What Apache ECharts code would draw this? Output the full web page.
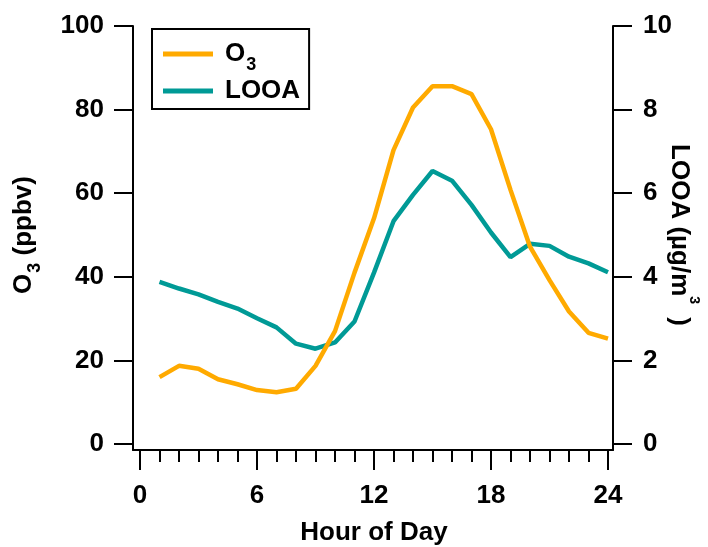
<!DOCTYPE html>
<html>
<head>
<meta charset="utf-8">
<script src="https://cdn.jsdelivr.net/npm/echarts@6/dist/echarts.min.js"></script>
<style>
  html, body { margin: 0; padding: 0; background: #fff; }
  #chart { width: 708px; height: 547px; }
</style>
</head>
<body>
<div id="chart"></div>
<script>
// hour of day 1..24
const hours = [1, 2, 3, 4, 5, 6, 7, 8, 9, 10, 11, 12, 13, 14, 15, 16, 17, 18, 19, 20, 21, 22, 23, 24]
// O3 (ppbv), left axis
const o3 = [16.0, 18.7, 18.0, 15.5, 14.3, 12.9, 12.4, 13.2, 18.7, 27.0, 41.0, 54.0,
  70.3, 80.5, 85.6, 85.6, 83.7, 75.3, 60.8, 47.2, 39.2, 31.7, 26.6, 25.2]
// LOOA (ug/m3), right axis
const looa = [3.88, 3.72, 3.58, 3.40, 3.24, 3.01, 2.79, 2.40, 2.28, 2.43, 2.93, 4.10,
  5.33, 5.96, 6.53, 6.30, 5.72, 5.06, 4.47, 4.79, 4.74, 4.48, 4.32, 4.11]

const font = '"Liberation Sans", Arial, sans-serif'
const black = '#000'
const orange = '#FFAA00'
const teal = '#009A96'
const fs = 26

const chart = echarts.init(document.getElementById('chart'))

const tickLabel = { color: black, fontFamily: font, fontWeight: 'bold', fontSize: fs }
const txt = { color: black, fontFamily: font, fontWeight: 'bold' }
const nameStyle = Object.assign({
  fontSize: fs,
  rich: {
    m: Object.assign({ fontSize: fs, lineHeight: 30 }, txt),
    // legend text, pushed a bit away from the line icon
    lm: Object.assign({ fontSize: fs, lineHeight: 30, padding: [0, 0, 0, 7] }, txt),
    // subscript pushed down by top padding, superscript pushed up by bottom padding
    sub: Object.assign({ fontSize: 18, lineHeight: 18, padding: [22, 0, 0, 1] }, txt),
    sup: Object.assign({ fontSize: 14, lineHeight: 14, padding: [0, 6, 30, 0] }, txt)
  }
}, txt)

const option = {
  animation: false,
  backgroundColor: '#fff',
  grid: [
    { left: 140, right: 100, top: 26, bottom: 103, outerBoundsMode: 'none', containLabel: false },
    // frame for the axis lines
    { left: 133, right: 95, top: 26, bottom: 97, outerBoundsMode: 'none', containLabel: false }
  ],
  legend: {
    left: 152,
    top: 29,
    orient: 'vertical',
    backgroundColor: '#fff',
    borderColor: black,
    borderWidth: 2,
    borderRadius: 0,
    padding: [5, 9, 5, 11],
    itemGap: 4,
    itemWidth: 50,
    itemHeight: 5,
    icon: 'rect',
    data: ['O3', 'LOOA'],
    formatter: name => name === 'O3' ? '{lm|O}{sub|3}' : '{lm|' + name + '}',
    textStyle: nameStyle
  },
  xAxis: [
    {
      type: 'value',
      gridIndex: 0,
      min: 0,
      max: 24,
      interval: 6,
      offset: 6,
      name: 'Hour of Day',
      nameLocation: 'middle',
      nameGap: 70,
      nameMoveOverlap: false,
      nameTextStyle: nameStyle,
      axisLine: { show: false, onZero: false },
      axisTick: { show: true, length: 20, lineStyle: { color: black, width: 2 } },
      minorTick: { show: true, splitNumber: 6, length: 12, lineStyle: { color: black, width: 2 } },
      axisLabel: Object.assign({ margin: 33 }, tickLabel),
      splitLine: { show: false }
    },
    {
      type: 'value',
      gridIndex: 1,
      min: 0,
      max: 1,
      axisLine: { show: true, onZero: false, lineStyle: { color: black, width: 2 } },
      axisTick: { show: false },
      axisLabel: { show: false },
      splitLine: { show: false }
    }
  ],
  yAxis: [
    {
      type: 'value',
      gridIndex: 0,
      position: 'left',
      min: 0,
      max: 100,
      interval: 20,
      offset: 7,
      name: '{m|O}{sub|3}{m| (ppbv)}',
      nameLocation: 'middle',
      nameGap: 94,
      nameMoveOverlap: false,
      nameTextStyle: nameStyle,
      axisLine: { show: false, onZero: false },
      axisTick: { show: true, length: 19, lineStyle: { color: black, width: 2 } },
      axisLabel: Object.assign({ margin: 29 }, tickLabel),
      splitLine: { show: false }
    },
    {
      type: 'value',
      gridIndex: 0,
      position: 'right',
      min: 0,
      max: 10,
      interval: 2,
      offset: 5,
      name: '{m|LOOA (µg/m}{sup|3}{m| )}',
      nameLocation: 'middle',
      nameRotate: -90,
      nameGap: 51,
      nameMoveOverlap: false,
      nameTextStyle: nameStyle,
      axisLine: { show: false, onZero: false },
      axisTick: { show: true, length: 19, lineStyle: { color: black, width: 2 } },
      axisLabel: Object.assign({ margin: 30 }, tickLabel),
      splitLine: { show: false }
    },
    {
      type: 'value',
      gridIndex: 1,
      position: 'left',
      min: 0,
      max: 1,
      axisLine: { show: true, onZero: false, lineStyle: { color: black, width: 2 } },
      axisTick: { show: false },
      axisLabel: { show: false },
      splitLine: { show: false }
    },
    {
      type: 'value',
      gridIndex: 1,
      position: 'right',
      min: 0,
      max: 1,
      axisLine: { show: true, onZero: false, lineStyle: { color: black, width: 2 } },
      axisTick: { show: false },
      axisLabel: { show: false },
      splitLine: { show: false }
    }
  ],
  series: [
    {
      name: 'O3',
      type: 'line',
      xAxisIndex: 0,
      yAxisIndex: 0,
      data: hours.map((h, i) => [h, o3[i]]),
      symbol: 'none',
      color: orange,
      lineStyle: { color: orange, width: 4.5 },
      z: 3
    },
    {
      name: 'LOOA',
      type: 'line',
      xAxisIndex: 0,
      yAxisIndex: 1,
      data: hours.map((h, i) => [h, looa[i]]),
      symbol: 'none',
      color: teal,
      lineStyle: { color: teal, width: 4.5 },
      z: 2
    }
  ]
}

chart.setOption(option)
</script>
</body>
</html>
